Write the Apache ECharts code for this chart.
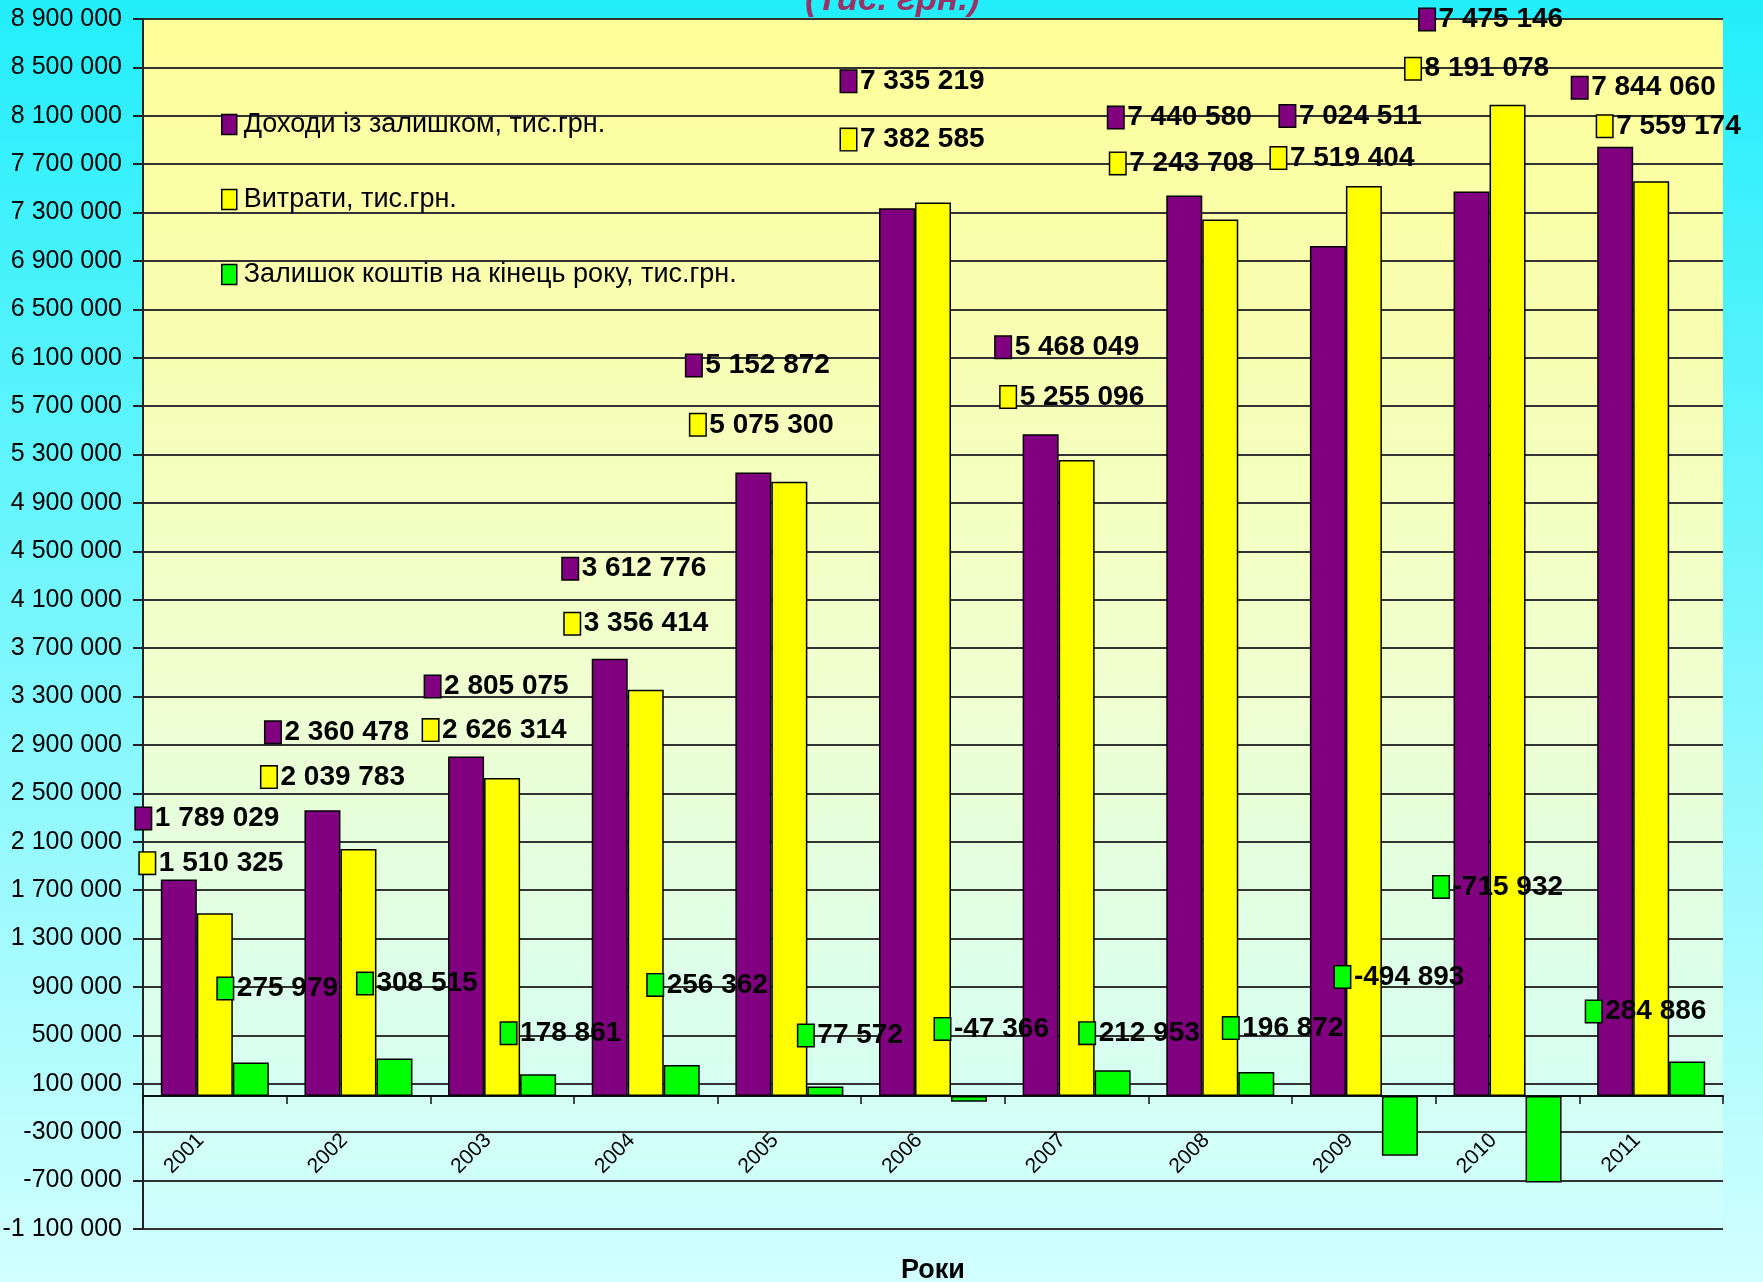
<!DOCTYPE html>
<html>
<head>
<meta charset="utf-8">
<script src="https://cdn.jsdelivr.net/npm/echarts@6/dist/echarts.min.js"></script>
<style>
  html, body { margin: 0; padding: 0; }
  #chart { width: 1763px; height: 1282px; }
</style>
</head>
<body>
<div id="chart"></div>
<script>
// роки
var years = ['2001', '2002', '2003', '2004', '2005', '2006', '2007', '2008', '2009', '2010', '2011'];
// доходи із залишком, тис.грн.
var incomeValues = [1789029, 2360478, 2805075, 3612776, 5152872, 7335219, 5468049, 7440580, 7024511, 7475146, 7844060];
// витрати, тис.грн.
var expenseValues = [1510325, 2039783, 2626314, 3356414, 5075300, 7382585, 5255096, 7243708, 7519404, 8191078, 7559174];
// залишок коштів на кінець року, тис.грн.
var balanceValues = [275979, 308515, 178861, 256362, 77572, -47366, 212953, 196872, -494893, -715932, 284886];
// поділки осі Y
var yTickValues = [-1100000, -700000, -300000, 100000, 500000, 900000, 1300000, 1700000, 2100000,
  2500000, 2900000, 3300000, 3700000, 4100000, 4500000, 4900000, 5300000, 5700000, 6100000,
  6500000, 6900000, 7300000, 7700000, 8100000, 8500000, 8900000];
var seriesNames = ['Доходи із залишком, тис.грн.', 'Витрати, тис.грн.', 'Залишок коштів на кінець року, тис.грн.'];

// зсуви підписів (px) - підписи в оригіналі розставлені вручну
var incomeLabelOffset = [[-43, -61], [-57, -78], [-41, -70], [-47, -90], [-67, -107], [-56, -127],
  [-45, -87], [-76, -78], [-48, -130], [-52, -172], [-43, -59]];
var expenseLabelOffset = [[-75, -50], [-97, -72], [-79, -48], [-81, -66], [-99, -57], [-92, -63],
  [-76, -63], [-110, -56], [-93, -28], [-102, -36], [-54, -55]];
var balanceLabelOffset = [[-33, -74], [-37, -75], [-37, -41], [-34, -80], [-27, -51], [-34, -67],
  [-33, -37], [-33, -44], [-65, -119], [-110, -209], [-101, -50]];

var FONT = "'Liberation Sans', Arial, sans-serif";

// 1 789 029
function formatNum(v) {
  var s = Math.abs(v).toString().replace(/\B(?=(\d{3})+(?!\d))/g, ' ');
  return (v < 0 ? '-' : '') + s;
}

function makeSeries(name, values, offsets, color) {
  return {
    name: name,
    type: 'bar',
    barWidth: 36,
    barGap: '0%',
    itemStyle: { color: color, borderColor: '#000', borderWidth: 1.5 },
    label: {
      show: true,
      position: 'top',
      distance: 0,
      align: 'left',
      verticalAlign: 'middle',
      formatter: function (p) {
        return '{k| }{v|' + formatNum(p.value) + '}';
      },
      rich: {
        k: { width: 15, height: 21, backgroundColor: color, borderColor: '#000', borderWidth: 1.5 },
        v: { fontFamily: FONT, fontSize: 28, fontWeight: 'bold', color: '#000', padding: [0, 0, 0, 4] }
      }
    },
    data: values.map(function (v, i) {
      return { value: v, label: { offset: offsets[i] } };
    })
  };
}

var myChart = echarts.init(document.getElementById('chart'));
var options = {
  backgroundColor: new echarts.graphic.LinearGradient(0, 0, 0, 1, [
    { offset: 0, color: '#22eefb' },
    { offset: 1, color: '#d2ffff' }
  ]),
  animation: false,
  graphic: [
    {
      type: 'text',
      left: 805,
      top: -17,
      style: {
        text: '(Тис. грн.)',
        fontFamily: FONT,
        fontSize: 35,
        fontWeight: 'bold',
        fontStyle: 'italic',
        fill: '#993366'
      }
    }
  ],
  legend: {
    orient: 'vertical',
    left: 216,
    top: 106,
    itemGap: 48,
    itemWidth: 15,
    itemHeight: 20,
    icon: 'rect',
    itemStyle: { borderColor: '#000', borderWidth: 1.5 },
    textStyle: { fontFamily: FONT, fontSize: 27, color: '#000', padding: [0, 0, 0, 2] },
    data: seriesNames
  },
  grid: {
    left: 143,
    right: 40,
    top: 19,
    bottom: 53,
    outerBoundsMode: 'none',
    show: true,
    borderWidth: 0,
    backgroundColor: new echarts.graphic.LinearGradient(0, 0, 0, 1, [
      { offset: 0, color: '#ffff99' },
      { offset: 0.55, color: '#f0ffd0' },
      { offset: 1, color: '#ccffff' }
    ])
  },
  xAxis: {
    type: 'category',
    data: years,
    name: 'Роки',
    nameLocation: 'middle',
    nameGap: 28,
    nameTextStyle: { fontFamily: FONT, fontSize: 27, fontWeight: 'bold', color: '#000' },
    axisLine: { lineStyle: { color: '#111', width: 2 } },
    axisTick: { show: true, length: 8, lineStyle: { color: '#111', width: 1.5 } },
    axisLabel: {
      rotate: 45,
      margin: -106,
      padding: [0, 20, 0, 0],
      fontFamily: FONT,
      fontSize: 21,
      color: '#000'
    },
    splitLine: { show: false }
  },
  yAxis: {
    type: 'value',
    min: -1100000,
    max: 8900000,
    axisLine: { show: true, lineStyle: { color: '#222', width: 2 } },
    axisTick: { show: true, length: 10, customValues: yTickValues, lineStyle: { color: '#222', width: 2 } },
    axisLabel: {
      customValues: yTickValues,
      margin: 21,
      fontFamily: FONT,
      fontSize: 25,
      color: '#000',
      formatter: function (v) { return formatNum(v); }
    },
    splitLine: { show: true, lineStyle: { color: '#333', width: 2 } }
  },
  series: [
    makeSeries(seriesNames[0], incomeValues, incomeLabelOffset, '#800080'),
    makeSeries(seriesNames[1], expenseValues, expenseLabelOffset, '#ffff00'),
    makeSeries(seriesNames[2], balanceValues, balanceLabelOffset, '#00ff00')
  ]
};
myChart.setOption(options);
</script>
</body>
</html>
